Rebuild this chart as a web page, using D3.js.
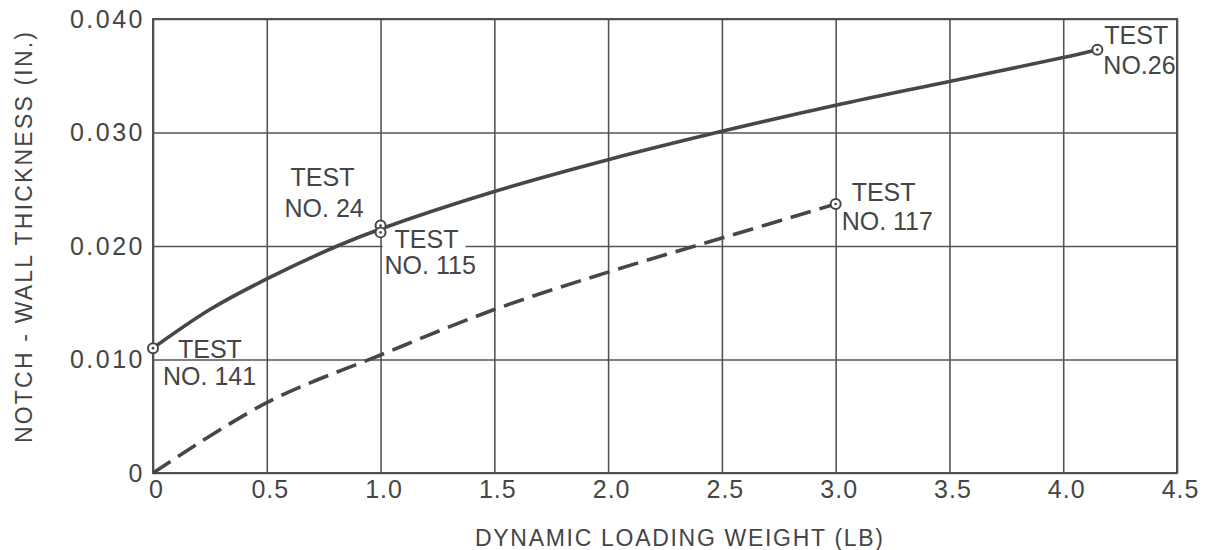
<!DOCTYPE html>
<html>
<head>
<meta charset="UTF-8">
<title>Notch-wall thickness vs dynamic loading weight</title>
<script src="https://d3js.org/d3.v7.min.js"></script>
<style>
  body { margin: 0; background: #fff; }
  svg text { font-family: "Liberation Sans", Arial, sans-serif; fill: #454545; }
  .grid line { stroke: #555; stroke-width: 1.6; }
  .grid .domain { display: none; }
</style>
</head>
<body>
<div id="chart"></div>
<script>
// tick values
const xTicks = [0, 0.5, 1.0, 1.5, 2.0, 2.5, 3.0, 3.5, 4.0, 4.5];
const xTickLabels = ["0", "0.5", "1.0", "1.5", "2.0", "2.5", "3.0", "3.5", "4.0", "4.5"];
const yTicks = [0, 0.010, 0.020, 0.030, 0.040];
const yTickLabels = ["0", "0.010", "0.020", "0.030", "0.040"];

// solid curve
const solidX = [0, 0.25, 0.5, 0.81, 1.0, 1.5, 2.0, 2.5, 3.0, 3.5, 4.0, 4.15];
const solidY = [0.0110, 0.0144, 0.0171, 0.0200, 0.0215, 0.0248, 0.0276, 0.0301, 0.0324, 0.0345, 0.0366, 0.0373];

// dashed curve
const dashX = [0, 0.5, 1.0, 1.5, 2.0, 2.5, 3.0];
const dashY = [0, 0.0062, 0.0104, 0.0144, 0.0177, 0.0207, 0.0237];

// test points
const testX = [0, 1.0, 1.0, 3.0, 4.15];
const testY = [0.0110, 0.0218, 0.0212, 0.0237, 0.0373];
const testLine1 = ["TEST", "TEST", "TEST", "TEST", "TEST"];
const testLine2 = ["NO. 141", "NO. 24", "NO. 115", "NO. 117", "NO.26"];

const W = 1208, H = 550;
const margin = {top: 19, right: 31, bottom: 77, left: 153};
const width = W - margin.left - margin.right,
      height = H - margin.top - margin.bottom;

const svgRoot = d3.select("#chart").append("svg")
    .attr("width", W).attr("height", H);
svgRoot.append("rect").attr("width", W).attr("height", H).attr("fill", "#fff");

const svg = svgRoot.append("g")
    .attr("transform", "translate(" + margin.left + "," + margin.top + ")");

const x = d3.scaleLinear().domain([0, 4.5]).range([0, width]);
const y = d3.scaleLinear().domain([0, 0.040]).range([height, 0]);

// grid + tick labels via axes
const gx = svg.append("g")
    .attr("class", "grid")
    .attr("transform", "translate(0," + height + ")")
    .call(d3.axisBottom(x).tickValues(xTicks)
        .tickFormat((d, i) => xTickLabels[i])
        .tickSize(-height).tickPadding(7));
gx.selectAll("text")
    .style("font-size", "25px")
    .style("letter-spacing", "1px")
    .attr("dx", "3");

const gy = svg.append("g")
    .attr("class", "grid")
    .call(d3.axisLeft(y).tickValues(yTicks)
        .tickFormat((d, i) => yTickLabels[i])
        .tickSize(-width).tickPadding(8));
gy.selectAll("text")
    .style("font-size", "25px")
    .style("letter-spacing", "2.5px");

// frame
svg.append("rect")
    .attr("x", 0).attr("y", 0)
    .attr("width", width).attr("height", height)
    .attr("fill", "none").attr("stroke", "#505050").attr("stroke-width", 2);

// white box behind TEST NO. 115 label (breaks the 0.020 gridline)
svg.append("rect")
    .attr("x", x(1.0) + 2).attr("y", y(0.020) - 4)
    .attr("width", 83).attr("height", 8)
    .attr("fill", "#fff");

// curves
const line = d3.line()
    .x(d => x(d[0]))
    .y(d => y(d[1]))
    .curve(d3.curveCatmullRom.alpha(0.5));

svg.append("path")
    .datum(solidX.map((v, i) => [v, solidY[i]]))
    .attr("d", line)
    .attr("fill", "none")
    .attr("stroke", "#474747")
    .attr("stroke-width", 3.6)
    .attr("stroke-linecap", "round");

svg.append("path")
    .datum(dashX.map((v, i) => [v, dashY[i]]))
    .attr("d", line)
    .attr("fill", "none")
    .attr("stroke", "#474747")
    .attr("stroke-width", 3.6)
    .attr("stroke-dasharray", "21,9");

// markers
const pts = svg.selectAll(".pt")
    .data(testX.map((v, i) => [v, testY[i]]))
    .enter().append("g")
    .attr("class", "pt")
    .attr("transform", d => "translate(" + x(d[0]) + "," + y(d[1]) + ")");
pts.append("circle").attr("r", 5)
    .attr("fill", "#fff").attr("stroke", "#454545").attr("stroke-width", 2);
pts.append("circle").attr("r", 1.3).attr("fill", "#454545");

// test labels, positioned relative to each marker
const labelOffset = [[25, 10], [-90, -40], [14, 16], [16, -3], [7, -6]];
const labelOffset2 = [[10, 37], [-96, -9], [4, 42], [6, 26], [6, 24]];
const labels = svg.selectAll(".lbl")
    .data(testX.map((v, i) => i))
    .enter().append("g")
    .attr("class", "lbl");
labels.append("text")
    .attr("x", i => x(testX[i]) + labelOffset[i][0])
    .attr("y", i => y(testY[i]) + labelOffset[i][1])
    .style("font-size", "25px")
    .text(i => testLine1[i]);
labels.append("text")
    .attr("x", i => x(testX[i]) + labelOffset2[i][0])
    .attr("y", i => y(testY[i]) + labelOffset2[i][1])
    .style("font-size", "25px")
    .text(i => testLine2[i]);

// axis titles
svgRoot.append("text")
    .attr("x", 475).attr("y", 546)
    .attr("textLength", 408).attr("lengthAdjust", "spacing")
    .style("font-size", "23px")
    .text("DYNAMIC  LOADING WEIGHT (LB)");

svgRoot.append("text")
    .attr("transform", "translate(32,443) rotate(-90)")
    .attr("textLength", 411).attr("lengthAdjust", "spacing")
    .style("font-size", "23px")
    .text("NOTCH - WALL  THICKNESS  (IN.)");
</script>
</body>
</html>
